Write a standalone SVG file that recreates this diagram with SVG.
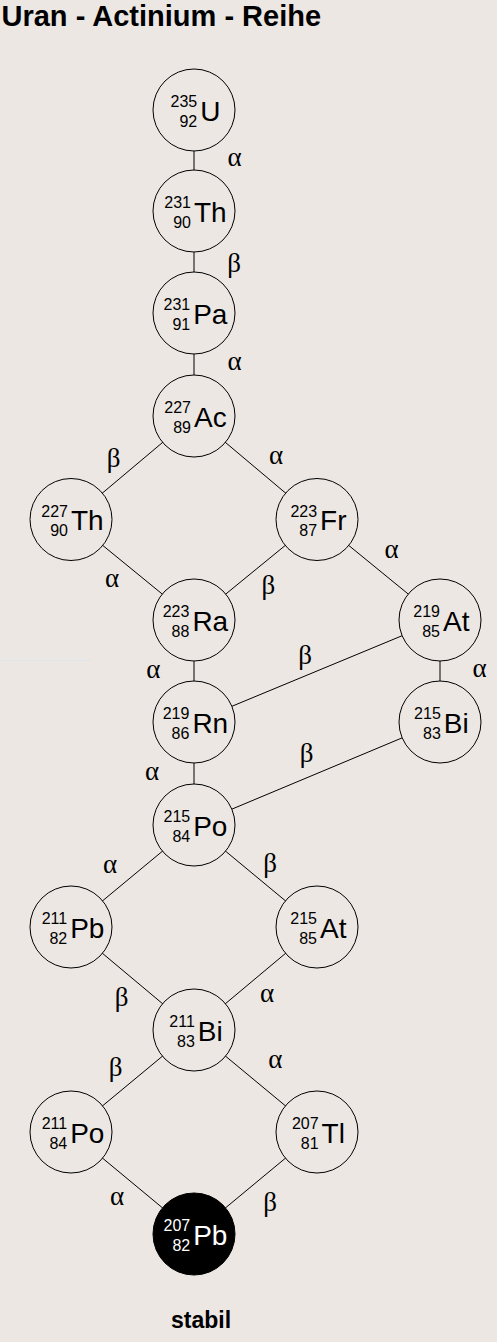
<svg xmlns="http://www.w3.org/2000/svg" width="497" height="1342" viewBox="0 0 497 1342">
<style>
.n{fill:#ECE7E3;stroke:#000;stroke-width:1}
.k{fill:#000;stroke:#000;stroke-width:1}
.c line{stroke:#000;stroke-width:1}
.m,.z{font-family:"Liberation Sans",Arial,sans-serif;font-size:16px;fill:#000;text-anchor:end}
.s{font-family:"Liberation Sans",Arial,sans-serif;font-size:28px;fill:#000}
.w{fill:#fff}
.g{font-family:"Liberation Serif","Times New Roman",serif;font-size:27px;fill:#000;text-anchor:middle}
.t{font-family:"Liberation Sans",Arial,sans-serif;font-weight:bold;fill:#000}
</style>
<rect width="497" height="1342" fill="#ECE7E3"/>
<line x1="0" y1="660.5" x2="91" y2="660.5" stroke="#dde6ef" stroke-width="1"/>
<text class="t" x="1.5" y="25.7" font-size="29">Uran - Actinium - Reihe</text>

<g id="connectors" class="c">
<line x1="194" y1="110" x2="194" y2="211"/>
<line x1="194" y1="211" x2="194" y2="313"/>
<line x1="194" y1="313" x2="194" y2="416"/>
<line x1="194" y1="416" x2="71" y2="519.5"/>
<line x1="194" y1="416" x2="317" y2="519.5"/>
<line x1="71" y1="519.5" x2="194" y2="620"/>
<line x1="317" y1="519.5" x2="194" y2="620"/>
<line x1="317" y1="519.5" x2="440" y2="620"/>
<line x1="194" y1="620" x2="194" y2="722"/>
<line x1="440" y1="620" x2="440" y2="722"/>
<line x1="440" y1="620" x2="194" y2="722"/>
<line x1="194" y1="722" x2="194" y2="825"/>
<line x1="440" y1="722" x2="194" y2="825"/>
<line x1="194" y1="825" x2="71" y2="927"/>
<line x1="194" y1="825" x2="317" y2="927"/>
<line x1="71" y1="927" x2="194" y2="1030"/>
<line x1="317" y1="927" x2="194" y2="1030"/>
<line x1="194" y1="1030" x2="71" y2="1132"/>
<line x1="194" y1="1030" x2="317" y2="1132"/>
<line x1="71" y1="1132" x2="194" y2="1234"/>
<line x1="317" y1="1132" x2="194" y2="1234"/>
</g>

<g id="labels">
<text class="g" x="234.7" y="166">α</text>
<text class="g" x="234" y="271.5">β</text>
<text class="g" x="234.5" y="370">α</text>
<text class="g" x="113.7" y="466.5">β</text>
<text class="g" x="276" y="464">α</text>
<text class="g" x="391.5" y="557.5">α</text>
<text class="g" x="112" y="586.7">α</text>
<text class="g" x="268.3" y="594">β</text>
<text class="g" x="479.5" y="677">α</text>
<text class="g" x="305" y="664">β</text>
<text class="g" x="153.3" y="678.3">α</text>
<text class="g" x="152" y="779.5">α</text>
<text class="g" x="306.7" y="762">β</text>
<text class="g" x="110" y="873">α</text>
<text class="g" x="270" y="872">β</text>
<text class="g" x="121.7" y="1006">β</text>
<text class="g" x="267" y="1001.7">α</text>
<text class="g" x="115.5" y="1075.7">β</text>
<text class="g" x="275.3" y="1068">α</text>
<text class="g" x="117" y="1204.5">α</text>
<text class="g" x="270" y="1211">β</text>
</g>

<g id="U235"><circle class="n" cx="194" cy="110" r="41"/><text class="m" x="197.2" y="107">235</text><text class="z" x="197.2" y="126.5">92</text><text class="s" x="200.2" y="120.5">U</text></g>
<g id="Th231"><circle class="n" cx="194" cy="211" r="41"/><text class="m" x="191" y="208">231</text><text class="z" x="191" y="227.5">90</text><text class="s" x="194" y="221.5">Th</text></g>
<g id="Pa231"><circle class="n" cx="194" cy="313" r="41"/><text class="m" x="190.2" y="310">231</text><text class="z" x="190.2" y="329.5">91</text><text class="s" x="193.2" y="323.5">Pa</text></g>
<g id="Ac227"><circle class="n" cx="194" cy="416" r="41"/><text class="m" x="191" y="413">227</text><text class="z" x="191" y="432.5">89</text><text class="s" x="194" y="426.5">Ac</text></g>
<g id="Th227"><circle class="n" cx="71" cy="519.5" r="41"/><text class="m" x="68" y="516.5">227</text><text class="z" x="68" y="536">90</text><text class="s" x="71" y="530">Th</text></g>
<g id="Fr223"><circle class="n" cx="317" cy="519.5" r="41"/><text class="m" x="317.1" y="516.5">223</text><text class="z" x="317.1" y="536">87</text><text class="s" x="320.1" y="530">Fr</text></g>
<g id="Ra223"><circle class="n" cx="194" cy="620" r="41"/><text class="m" x="189.4" y="617">223</text><text class="z" x="189.4" y="636.5">88</text><text class="s" x="192.4" y="630.5">Ra</text></g>
<g id="At219"><circle class="n" cx="440" cy="620" r="41"/><text class="m" x="440" y="617">219</text><text class="z" x="440" y="636.5">85</text><text class="s" x="443" y="630.5">At</text></g>
<g id="Rn219"><circle class="n" cx="194" cy="722" r="41"/><text class="m" x="189.4" y="719">219</text><text class="z" x="189.4" y="738.5">86</text><text class="s" x="192.4" y="732.5">Rn</text></g>
<g id="Bi215"><circle class="n" cx="440" cy="722" r="41"/><text class="m" x="440.8" y="719">215</text><text class="z" x="440.8" y="738.5">83</text><text class="s" x="443.8" y="732.5">Bi</text></g>
<g id="Po215"><circle class="n" cx="194" cy="825" r="41"/><text class="m" x="190.2" y="822">215</text><text class="z" x="190.2" y="841.5">84</text><text class="s" x="193.2" y="835.5">Po</text></g>
<g id="Pb211"><circle class="n" cx="71" cy="927" r="41"/><text class="m" x="67.2" y="924">211</text><text class="z" x="67.2" y="943.5">82</text><text class="s" x="70.2" y="937.5">Pb</text></g>
<g id="At215"><circle class="n" cx="317" cy="927" r="41"/><text class="m" x="317" y="924">215</text><text class="z" x="317" y="943.5">85</text><text class="s" x="320" y="937.5">At</text></g>
<g id="Bi211"><circle class="n" cx="194" cy="1030" r="41"/><text class="m" x="194.8" y="1027">211</text><text class="z" x="194.8" y="1046.5">83</text><text class="s" x="197.8" y="1040.5">Bi</text></g>
<g id="Po211"><circle class="n" cx="71" cy="1132" r="41"/><text class="m" x="67.2" y="1129">211</text><text class="z" x="67.2" y="1148.5">84</text><text class="s" x="70.2" y="1142.5">Po</text></g>
<g id="Tl207"><circle class="n" cx="317" cy="1132" r="41"/><text class="m" x="318.6" y="1129">207</text><text class="z" x="318.6" y="1148.5">81</text><text class="s" x="321.6" y="1142.5">Tl</text></g>
<g id="Pb207"><circle class="k" cx="194" cy="1234" r="41"/><text class="m w" x="190.2" y="1231">207</text><text class="z w" x="190.2" y="1250.5">82</text><text class="s w" x="193.2" y="1244.5">Pb</text></g>

<text class="t" x="201" y="1327.5" font-size="23" text-anchor="middle">stabil</text>
</svg>
